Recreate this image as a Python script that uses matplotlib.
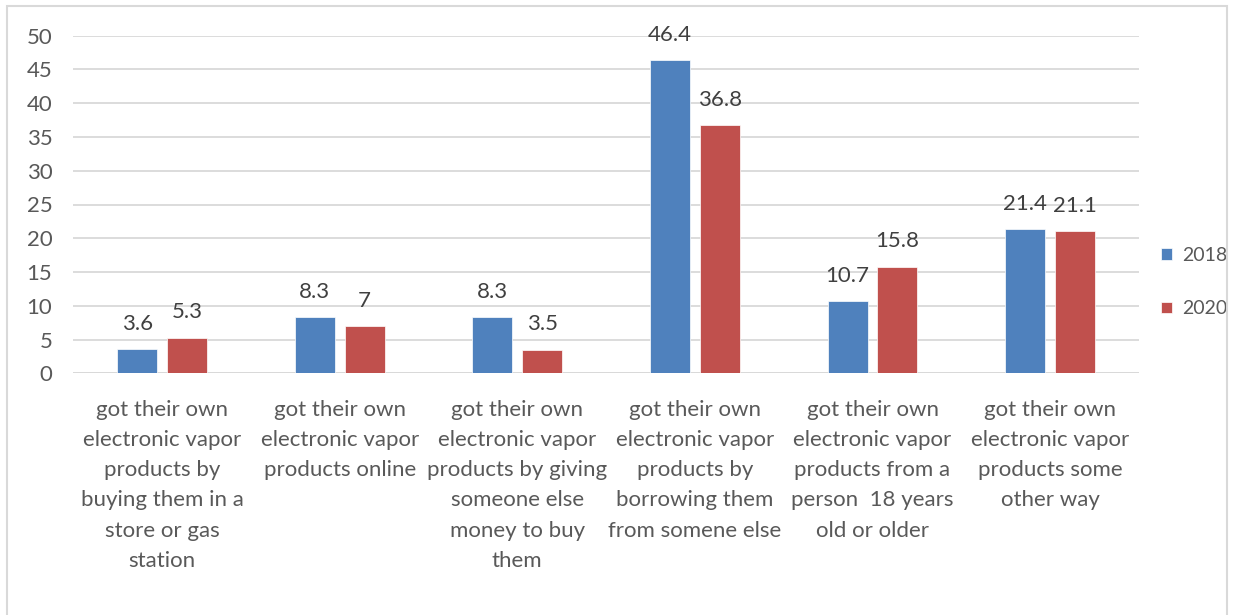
import matplotlib.pyplot as plt
from matplotlib.patches import Rectangle
import numpy as np

categories = [
    "got their own\nelectronic vapor\nproducts by\nbuying them in a\nstore or gas\nstation",
    "got their own\nelectronic vapor\nproducts online",
    "got their own\nelectronic vapor\nproducts by giving\nsomeone else\nmoney to buy\nthem",
    "got their own\nelectronic vapor\nproducts by\nborrowing them\nfrom somene else",
    "got their own\nelectronic vapor\nproducts from a\nperson  18 years\nold or older",
    "got their own\nelectronic vapor\nproducts some\nother way",
]
values_2018 = [3.6, 8.3, 8.3, 46.4, 10.7, 21.4]
values_2020 = [5.3, 7, 3.5, 36.8, 15.8, 21.1]
series_names = ["2018", "2020"]
yticks = [0, 5, 10, 15, 20, 25, 30, 35, 40, 45, 50]

BLUE = "#4F81BD"
RED = "#C0504D"
TEXT = "#595959"
GRID = "#D9D9D9"

plt.rcParams['font.family'] = ['Lato', 'DejaVu Sans']

W, H = 1236, 615
fig = plt.figure(figsize=(W / 100, H / 100), dpi=100)
ax = fig.add_axes([73.2 / W, 1 - 373.3 / H, (1139 - 73.2) / W, (373.3 - 35.7) / H])

x = np.arange(len(categories))
bw = 0.225
off = 0.14
b1 = ax.bar(x - off, values_2018, bw, color=BLUE, edgecolor="white", linewidth=0.5,
            label=series_names[0], zorder=3)
b2 = ax.bar(x + off, values_2020, bw, color=RED, edgecolor="white", linewidth=0.5,
            label=series_names[1], zorder=3)

for bars, vals in ((b1, values_2018), (b2, values_2020)):
    for rect, v in zip(bars, vals):
        ax.annotate(f"{v:g}", (rect.get_x() + rect.get_width() / 2, rect.get_height()),
                    xytext=(0, 11), textcoords="offset points", ha="center", va="bottom",
                    fontsize=16, color="#404040")

ax.set_xlim(-0.5, len(categories) - 0.5)
ax.set_ylim(0, 50)
ax.set_yticks(yticks)
ax.yaxis.grid(True, color=GRID, linewidth=1.3, zorder=0)
ax.set_axisbelow(True)
for s in ax.spines.values():
    s.set_visible(False)
ax.axhline(0, color=GRID, linewidth=1.3, zorder=1)

ax.set_xticks(x)
ax.set_xticklabels(categories, fontsize=16, color=TEXT, linespacing=1.64)
ax.tick_params(axis="x", length=0, pad=19)
ax.tick_params(axis="y", length=0, pad=15, labelsize=16, labelcolor=TEXT)

ax.legend(loc="center left", bbox_to_anchor=(1161 / W, 1 - 282 / H),
          bbox_transform=fig.transFigure, frameon=False, fontsize=14,
          handlelength=0.55, handleheight=0.55, handletextpad=0.55,
          labelspacing=1.9, borderpad=0, borderaxespad=0, labelcolor=TEXT)

fig.patches.append(Rectangle((7 / W, -0.01), (1227 - 7) / W, 1.01 - 6 / H,
                             transform=fig.transFigure, fill=False,
                             edgecolor=GRID, linewidth=1.5))

fig.savefig("out.png", dpi=100)
